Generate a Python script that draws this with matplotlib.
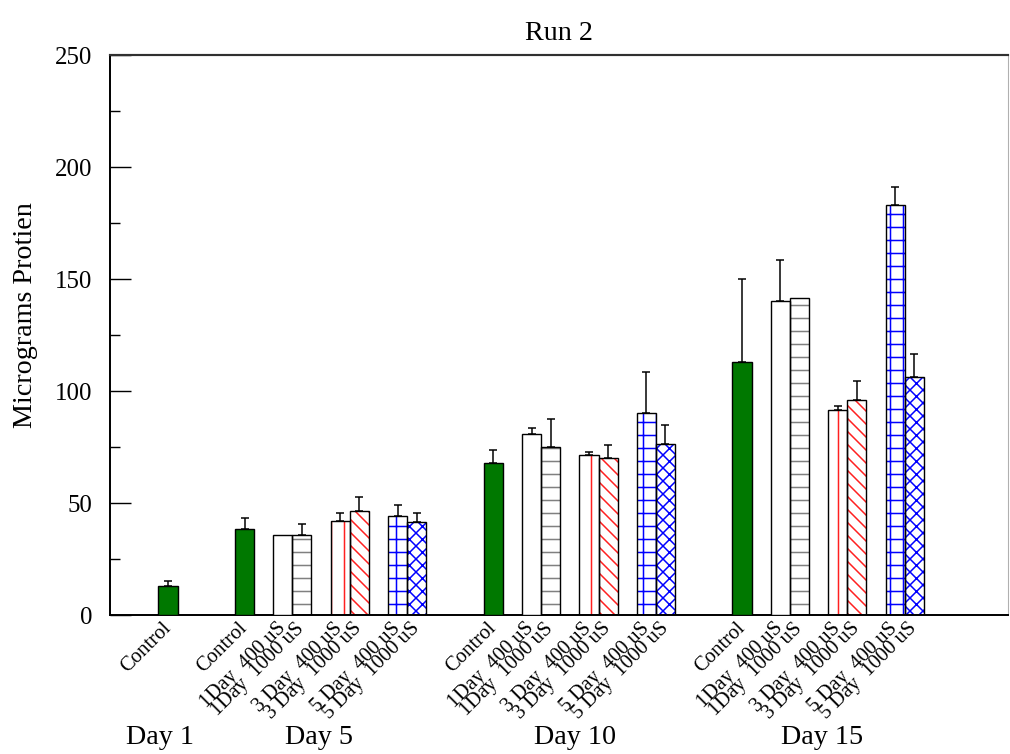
import matplotlib

matplotlib.use("Agg")
import matplotlib.pyplot as plt
import matplotlib.transforms as mtransforms
import numpy as np
from matplotlib.ticker import MultipleLocator

plt.rcParams["font.family"] = ["Liberation Serif", "DejaVu Serif"]
plt.rcParams["hatch.linewidth"] = 1.4

DPI = 78

days = ["Day 1", "Day 5", "Day 10", "Day 15"]
series = ["Control", "1Day  400 uS", "1Day  1000 uS", "3 Day  400 uS",
          "3 Day  1000 uS", "5 Day  400 uS", "5 Day  1000 uS"]

# protein per bar (ug), day 1 only has the control
means = {
    "Day 1": [13],
    "Day 5": [38.5, 35.6, 35.6, 42.0, 46.5, 44.2, 41.4],
    "Day 10": [67.7, 80.6, 75.0, 71.4, 70.0, 90.1, 76.3],
    "Day 15": [112.8, 140.0, 141.6, 91.4, 95.9, 183.0, 106.4],
}
errs = {
    "Day 1": [2.0],
    "Day 5": [5.0, 0.0, 5.0, 3.7, 6.0, 5.0, 4.3],
    "Day 10": [5.8, 3.0, 12.7, 1.5, 5.7, 18.5, 8.7],
    "Day 15": [37.3, 18.7, 0.0, 2.1, 8.4, 7.9, 10.1],
}

# look of each series: face colour, hatch, hatch colour
styles = [
    ("#007800", None, None),
    ("white", None, None),
    ("white", "-", "#808080"),
    ("white", "|", "#ff2020"),
    ("white", "\\\\", "#ff2020"),
    ("white", "+", "#0000ff"),
    ("white", "xx", "#0000ff"),
]

slot = [0, 2, 3, 5, 6, 8, 9]
group_start = [0, 4, 17, 30]
day_label_x = [-0.4, 7.9, 21.3, 34.2]

fig = plt.figure(figsize=(1010 / DPI, 754 / DPI), dpi=DPI)
ax = fig.add_axes([110 / 1010, 1 - 615 / 754, 898 / 1010, 560 / 754])

tick_pos, tick_lab = [], []
for d, start in zip(days, group_start):
    for i, (m, e) in enumerate(zip(means[d], errs[d])):
        x = start + slot[i]
        face, hatch, hcol = styles[i]
        if hatch:
            ax.bar(x, m, width=1.0, color=face, edgecolor=hcol, hatch=hatch,
                   linewidth=0, zorder=2)
            ax.bar(x, m, width=1.0, fill=False, edgecolor="black",
                   linewidth=1.3, zorder=3)
        else:
            ax.bar(x, m, width=1.0, color=face, edgecolor="black",
                   linewidth=1.3, zorder=3)
        if e > 0:
            ax.errorbar(x, m, yerr=[[0], [e]], fmt="none", ecolor="black",
                        elinewidth=1.4, capsize=4, capthick=1.4, zorder=4)
        tick_pos.append(x)
        tick_lab.append(series[i])

ax.set_xlim(-3.03, 43.9)
ax.set_ylim(0, 250)
ax.yaxis.set_major_locator(MultipleLocator(50))
ax.yaxis.set_minor_locator(MultipleLocator(25))
ax.tick_params(axis="y", which="major", direction="in", length=19.5, width=1.3,
               labelsize=23, pad=16)
ax.tick_params(axis="y", which="minor", direction="in", length=9.5, width=1.3)
ax.set_xticks(tick_pos)
ax.set_xticklabels(tick_lab, rotation=45, ha="right", va="center",
                   rotation_mode="anchor", fontsize=19)
ax.tick_params(axis="x", length=0, pad=10)

ax.spines["left"].set_linewidth(1.8)
ax.spines["bottom"].set_linewidth(1.8)
ax.spines["top"].set_color("#303030")
ax.spines["top"].set_linewidth(2.0)
ax.spines["right"].set_color("#b0b0b0")
ax.spines["right"].set_linewidth(1.0)

ax.set_ylabel("Micrograms Protien", fontsize=26)
ax.yaxis.set_label_coords(-0.08, 0.536)
ax.set_title("Run 2", fontsize=26, pad=14)

trans = mtransforms.blended_transform_factory(ax.transData, ax.transAxes)
for d, x in zip(days, day_label_x):
    ax.text(x, -0.218, d, transform=trans, ha="center", va="center", fontsize=26)

fig.savefig("out.png", dpi=DPI)
plt.close(fig)
